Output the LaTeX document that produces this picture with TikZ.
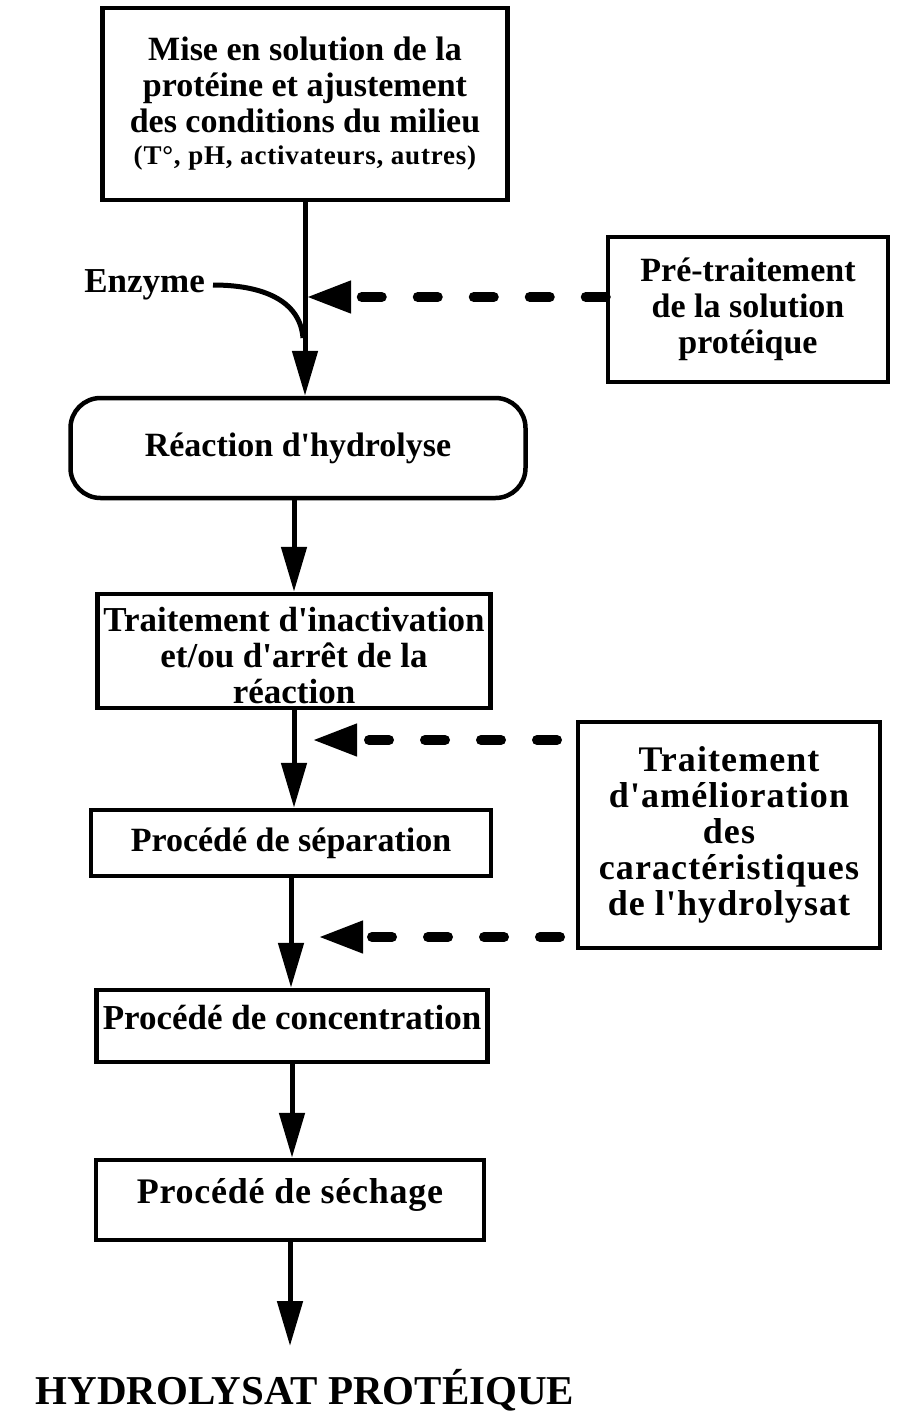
\documentclass[tikz,border=0pt]{standalone}
\usepackage{fontspec}
\setmainfont{Liberation Serif}[Ligatures=TeXOff]
\usetikzlibrary{arrows.meta,calc}
\begin{document}
\begin{tikzpicture}[x=1pt,y=-1pt,
  box/.style={draw,line width=4.5pt,align=center,font=\bfseries\fontsize{34}{36}\selectfont,inner sep=0pt},
  flow/.style={line width=5pt,-{Triangle[length=45pt,width=25pt]}},
  side/.style={line width=10pt,line cap=round,dash pattern=on 20pt off 36pt,-{Triangle[length=45pt,width=30pt]}},
  lbl/.style={font=\bfseries\fontsize{35}{36}\selectfont,inner sep=0pt,align=center},
]
\useasboundingbox (0,0) rectangle (898,1419);
\node[box,minimum width=405pt,minimum height=192pt] (b1) at (305,104)
  {Mise en solution de la\\protéine et ajustement\\des conditions du milieu\\[-4pt]{\fontsize{27}{28}\selectfont\addfontfeature{LetterSpace=3}(T°, pH, activateurs, autres)}};
\node[box,minimum width=280pt,minimum height=145pt] (pre) at (748,309.5)
  {Pré-traitement\\de la solution\\protéique};
\node[box,rounded corners=30pt,minimum width=455pt,minimum height=100pt] (r) at (298,448)
  {Réaction d'hydrolyse};
\node[box,minimum width=393pt,minimum height=114pt,
  label={[lbl,yshift=-5pt]center:Traitement d'inactivation\\et/ou d'arrêt de la\\réaction}] (t) at (294,651) {};
\node[box,minimum width=302pt,minimum height=226pt,font=\bfseries\fontsize{36}{36}\selectfont] (am) at (729,835)
  {\addfontfeature{LetterSpace=3}Traitement\\\addfontfeature{LetterSpace=3}d'amélioration\\\addfontfeature{LetterSpace=3}des\\\addfontfeature{LetterSpace=3}caractéristiques\\\addfontfeature{LetterSpace=3}de l'hydrolysat};
\node[box,minimum width=400pt,minimum height=66pt] (sep) at (291,843)
  {Procédé de séparation};
\node[box,minimum width=391pt,minimum height=72pt,
  label={[lbl,yshift=9pt]center:Procédé de concentration}] (conc) at (292,1026) {};
\node[box,minimum width=388pt,minimum height=80pt,
  label={[lbl,font=\bfseries\fontsize{36}{36}\selectfont,yshift=5pt]center:\addfontfeature{LetterSpace=2}Procédé de séchage}] (sech) at (290,1200) {};
\node[font=\bfseries\fontsize{41}{41}\selectfont,inner sep=0pt] (fin) at (305,1390)
  {HYDROLYSAT PROTÉIQUE};
\node[lbl,anchor=east] (enz) at (205,285) {Enzyme};

\coordinate (j0) at (303,338);
\coordinate (j1) at (306,297);
\coordinate (j2) at (312,740);
\coordinate (s2) at (557,740);
\coordinate (j3) at (318,937);
\coordinate (s3) at (560,937);
\coordinate (e5) at (290,1346);

\draw[flow] (b1.south) -- (b1.south |- r.north);
\draw[flow] (r.south -| t.north) -- (t.north);
\draw[flow] (t.south) -- (t.south |- sep.north);
\draw[flow] (sep.south) -- (sep.south |- conc.north);
\draw[flow] (conc.south) -- (conc.south |- sech.north);
\draw[flow] (sech.south) -- (sech.south |- e5);
\draw[line width=5pt] ([xshift=8pt]enz.east) .. controls (262,285) and (300,300) .. (j0);
\draw[side] (pre.west |- j1) -- (j1);
\draw[side] (s2) -- (j2);
\draw[side] (s3) -- (j3);
\end{tikzpicture}
\end{document}
